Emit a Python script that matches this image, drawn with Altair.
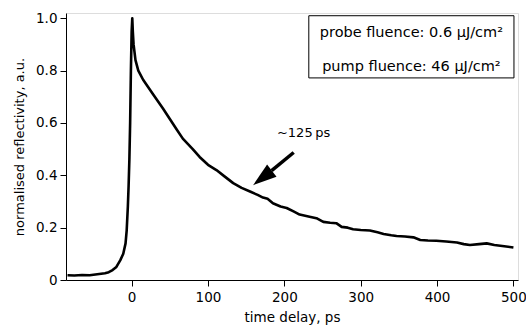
import altair as alt
import pandas as pd

# measured trace (time delay in ps, normalised reflectivity)
delay = [-84, -75, -65, -55, -45, -35, -30, -25, -20, -15, -11, -8, -6.5, -5, -4, -3, -2, -1, 0, 0.8,
         1.5, 2.5, 5, 8.7, 15, 28, 41, 50, 59, 67, 80, 89, 100, 111, 122, 133, 144, 155, 165, 172,
         178, 185, 195, 203, 212, 220, 233, 242, 251, 260, 268, 275, 283, 290, 300, 312, 322, 330,
         340, 347, 358, 369, 378, 388, 399, 412, 426, 435, 443, 455, 465, 475, 488, 500]
refl = [0.018, 0.017, 0.019, 0.018, 0.022, 0.026, 0.030, 0.038, 0.050, 0.075, 0.10, 0.14, 0.19, 0.28,
        0.36, 0.46, 0.60, 0.80, 0.95, 1.0, 0.95, 0.90, 0.84, 0.80, 0.765, 0.71, 0.655, 0.615, 0.575,
        0.54, 0.50, 0.47, 0.44, 0.42, 0.395, 0.37, 0.352, 0.338, 0.325, 0.315, 0.310, 0.293, 0.281,
        0.275, 0.262, 0.250, 0.242, 0.236, 0.222, 0.219, 0.217, 0.203, 0.200, 0.194, 0.191, 0.189,
        0.182, 0.176, 0.171, 0.168, 0.166, 0.163, 0.153, 0.151, 0.150, 0.147, 0.143, 0.137, 0.134,
        0.137, 0.140, 0.134, 0.129, 0.124]

x_ticks = [0, 100, 200, 300, 400, 500]
y_ticks = [0, 0.2, 0.4, 0.6, 0.8, 1.0]
legend_lines = ["probe fluence: 0.6 \u03bcJ/cm\u00b2", "pump fluence: 46 \u03bcJ/cm\u00b2"]
annotation = "~125\u2009ps"

FONT = "DejaVu Sans"
df = pd.DataFrame({"t": delay, "r": refl})

xs = alt.Scale(domain=[-86, 506], nice=False, zero=False)
ys = alt.Scale(domain=[0, 1.02], nice=False)

line = alt.Chart(df).mark_line(color="black", strokeWidth=2.6, strokeJoin="round").encode(
    x=alt.X("t:Q", scale=xs, title="time delay, ps",
            axis=alt.Axis(values=x_ticks, grid=False, domainColor="black", tickColor="black",
                          tickSize=6, labelPadding=4, titlePadding=7, labelColor="black",
                          titleColor="black", labelFontSize=13.5, titleFontSize=13.5,
                          labelFont=FONT, titleFont=FONT, titleFontWeight="normal")),
    y=alt.Y("r:Q", scale=ys, title="normalised reflectivity, a.u.",
            axis=alt.Axis(values=y_ticks, grid=False, domainColor="black", tickColor="black",
                          tickSize=6, labelPadding=3, titlePadding=9, labelColor="black",
                          titleColor="black", labelFontSize=13.5, titleFontSize=13,
                          labelFont=FONT, titleFont=FONT, titleFontWeight="normal",
                          labelExpr="datum.value == 0 ? '0' : format(datum.value, '.1f')")),
)

box = alt.Chart(pd.DataFrame({"a": [0]})).mark_rect(fill="white", stroke="black", strokeWidth=1).encode(
    x=alt.datum(232, scale=xs), x2=alt.datum(500.7),
    y=alt.datum(1.0096, scale=ys), y2=alt.datum(0.772),
)

leg = alt.Chart(pd.DataFrame({"txt": legend_lines, "yy": [0.945, 0.815]})).mark_text(
    font=FONT, fontSize=14.5, color="black", align="center", baseline="middle"
).encode(x=alt.datum(366.4, scale=xs), y=alt.Y("yy:Q", scale=ys), text="txt:N")

ann = alt.Chart(pd.DataFrame({"txt": [annotation]})).mark_text(
    font=FONT, fontSize=13, color="black", align="left", baseline="middle"
).encode(x=alt.datum(190.3, scale=xs), y=alt.datum(0.562, scale=ys), text="txt:N")

shaft = alt.Chart(pd.DataFrame({"a": [0]})).mark_rule(color="black", strokeWidth=3.5).encode(
    x=alt.datum(212.2, scale=xs), x2=alt.datum(183.3),
    y=alt.datum(0.487, scale=ys), y2=alt.datum(0.4176),
)

head = alt.Chart(pd.DataFrame({"a": [0]})).mark_point(
    shape="M0,-1 L0.65,1 L-0.65,1 Z", filled=True, color="black", opacity=1,
    size=560, angle=232.3, strokeWidth=0
).encode(x=alt.datum(171.3, scale=xs), y=alt.datum(0.390, scale=ys))

chart = alt.layer(line, box, leg, ann, shaft, head).properties(
    width=452, height=267,
    autosize=alt.AutoSizeParams(type="none"),
    padding={"left": 66, "top": 13, "right": 8, "bottom": 49},
).configure_view(stroke=None).configure(background="white")

chart.save("out.html", embed_options={"renderer": "svg", "actions": False})
